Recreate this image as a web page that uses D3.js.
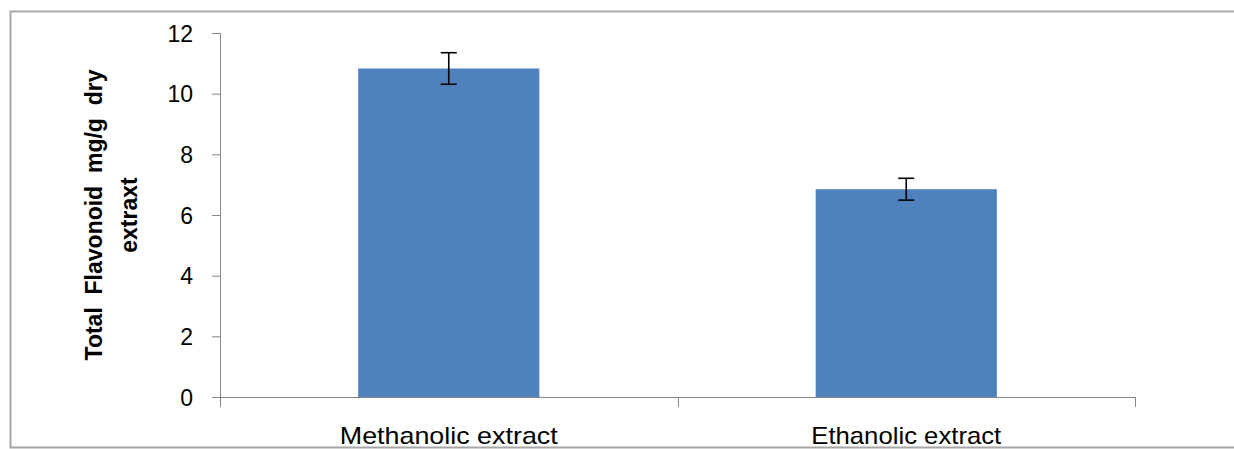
<!DOCTYPE html>
<html>
<head>
<meta charset="utf-8">
<script src="https://cdn.jsdelivr.net/npm/d3@7"></script>
<style>
  body { margin: 0; background: #fff; overflow: hidden; }
  svg { display: block; }
</style>
</head>
<body>
<div id="chart-area"></div>
<script>
// data
const categories = ["Methanolic extract", "Ethanolic extract"]
const values = [10.83, 6.85]
const errors = [0.52, 0.36]
const yTicks = [0, 2, 4, 6, 8, 10, 12]

const W = 1234, H = 449
const MARGIN = {LEFT: 220, RIGHT: 99, TOP: 33, BOTTOM: 52}
const WIDTH = W - MARGIN.LEFT - MARGIN.RIGHT
const HEIGHT = H - MARGIN.TOP - MARGIN.BOTTOM

const svg = d3.select("#chart-area").append("svg")
  .attr("width", W)
  .attr("height", H)

// outer chart frame (right side runs past the window)
svg.append("path")
  .attr("d", `M${W},11.5H10.5V447.5H${W}`)
  .attr("fill", "none")
  .attr("stroke", "#a6a6a6")
  .attr("stroke-width", 2)

const g = svg.append("g")
  .attr("transform", `translate(${MARGIN.LEFT}, ${MARGIN.TOP})`)

const x = d3.scaleBand()
  .domain(categories)
  .range([0, WIDTH])
  .paddingInner(0.604)
  .paddingOuter(0.302)

const y = d3.scaleLinear()
  .domain([0, 12])
  .range([HEIGHT, 0])

// y axis
const yAxisCall = d3.axisLeft(y)
  .tickValues(yTicks)
  .tickSize(8)
  .tickPadding(19)

const yAxis = g.append("g")
  .attr("class", "y axis")
  .call(yAxisCall)
yAxis.select(".domain")
  .attr("d", `M-8,0.5H0.5V${HEIGHT + 10}`)
  .attr("stroke", "#868686")
yAxis.selectAll("line").attr("stroke", "#868686")
yAxis.selectAll("text")
  .attr("font-family", "'Liberation Sans', Arial, sans-serif")
  .attr("font-size", "23px")
  .attr("fill", "#000")
  .attr("dy", "0.35em")

// x axis: line at zero plus category boundary ticks
g.append("line")
  .attr("x1", 0).attr("x2", WIDTH)
  .attr("y1", y(0) + 0.5).attr("y2", y(0) + 0.5)
  .attr("stroke", "#868686")

const bounds = categories.map(c => x(c) + x.bandwidth() + x.step() * x.paddingInner() / 2)
g.selectAll(".xtick").data(bounds).enter().append("line")
  .attr("class", "xtick")
  .attr("x1", d => Math.round(d) + 0.5).attr("x2", d => Math.round(d) + 0.5)
  .attr("y1", y(0)).attr("y2", y(0) + 10)
  .attr("stroke", "#868686")

g.selectAll(".xlabel").data(categories).enter().append("text")
  .attr("class", "xlabel")
  .attr("x", d => x(d) + x.bandwidth() / 2)
  .attr("y", HEIGHT + 47)
  .attr("text-anchor", "middle")
  .attr("font-family", "'Liberation Sans', Arial, sans-serif")
  .attr("font-size", "24px")
  .attr("textLength", (d, i) => i === 0 ? 218 : 190)
  .attr("lengthAdjust", "spacingAndGlyphs")
  .text(d => d)

// bars
g.selectAll("rect.bar").data(categories).enter().append("rect")
  .attr("class", "bar")
  .attr("x", d => x(d))
  .attr("y", (d, i) => y(values[i]))
  .attr("width", x.bandwidth())
  .attr("height", (d, i) => HEIGHT - y(values[i]))
  .attr("fill", "#4f81bd")

// error bars
const eb = g.selectAll(".err").data(categories).enter().append("g")
  .attr("class", "err")
  .attr("stroke", "#000")
  .attr("stroke-width", 1.6)
eb.append("line")
  .attr("x1", d => x(d) + x.bandwidth() / 2)
  .attr("x2", d => x(d) + x.bandwidth() / 2)
  .attr("y1", (d, i) => y(values[i] + errors[i]))
  .attr("y2", (d, i) => y(values[i] - errors[i]))
eb.append("line")
  .attr("x1", d => x(d) + x.bandwidth() / 2 - 8)
  .attr("x2", d => x(d) + x.bandwidth() / 2 + 8)
  .attr("y1", (d, i) => y(values[i] + errors[i]))
  .attr("y2", (d, i) => y(values[i] + errors[i]))
eb.append("line")
  .attr("x1", d => x(d) + x.bandwidth() / 2 - 8)
  .attr("x2", d => x(d) + x.bandwidth() / 2 + 8)
  .attr("y1", (d, i) => y(values[i] - errors[i]))
  .attr("y2", (d, i) => y(values[i] - errors[i]))

// y-label, two lines
const ylab = svg.append("text")
  .attr("transform", `translate(0, 215) rotate(-90)`)
  .attr("text-anchor", "middle")
  .attr("font-family", "'Liberation Sans', Arial, sans-serif")
  .attr("font-weight", "bold")
  .attr("font-size", "23px")
  .style("white-space", "pre")
ylab.append("tspan").attr("x", 0).attr("y", 102)
  .text("Total  Flavonoid  mg/g  dry")
ylab.append("tspan").attr("x", 0).attr("y", 137).text("extraxt")
</script>
</body>
</html>
